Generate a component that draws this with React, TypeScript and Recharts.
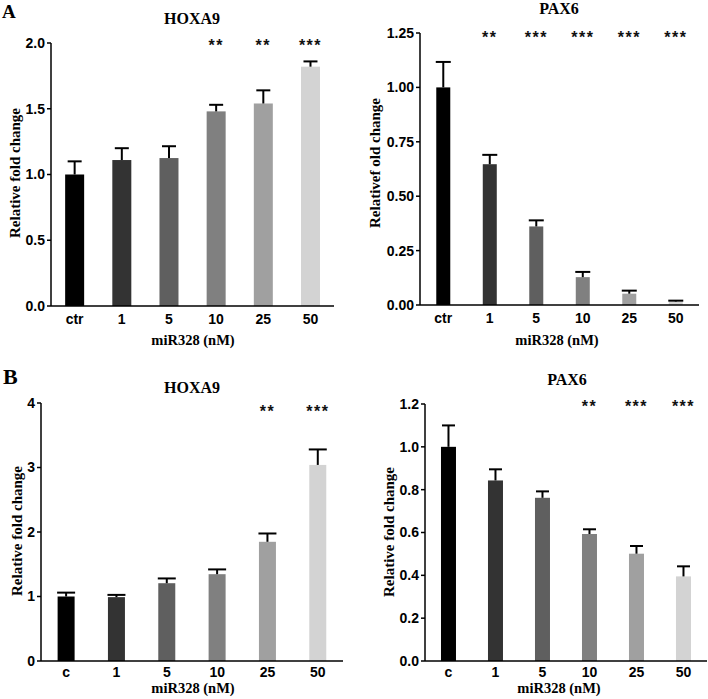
import { BarChart, Bar, XAxis, YAxis, Cell } from "recharts";

// categories
const dosesA = ["ctr", "1", "5", "10", "25", "50"];
const dosesB = ["c", "1", "5", "10", "25", "50"];
const barColors = ["#000000", "#333333", "#5f5f5f", "#808080", "#a0a0a0", "#d3d3d3"];

// panel A - HOXA9
const hoxaA = [1.0, 1.11, 1.125, 1.48, 1.54, 1.82];
const hoxaASem = [0.1, 0.09, 0.09, 0.05, 0.1, 0.04];
const hoxaASig = ["", "", "", "**", "**", "***"];
const hoxaATicks = [0, 0.5, 1.0, 1.5, 2.0];

// panel A - PAX6
const pax6A = [1.0, 0.647, 0.361, 0.128, 0.052, 0.016];
const pax6ASem = [0.117, 0.043, 0.028, 0.024, 0.014, 0.004];
const pax6ASig = ["", "**", "***", "***", "***", "***"];
const pax6ATicks = [0, 0.25, 0.5, 0.75, 1.0, 1.25];

// panel B - HOXA9
const hoxaB = [1.0, 0.99, 1.206, 1.346, 1.848, 3.04];
const hoxaBSem = [0.06, 0.035, 0.074, 0.074, 0.129, 0.24];
const hoxaBSig = ["", "", "", "", "**", "***"];
const hoxaBTicks = [0, 1, 2, 3, 4];

// panel B - PAX6
const pax6B = [1.0, 0.843, 0.762, 0.593, 0.501, 0.395];
const pax6BSem = [0.1, 0.052, 0.03, 0.022, 0.036, 0.047];
const pax6BSig = ["", "", "", "**", "***", "***"];
const pax6BTicks = [0, 0.2, 0.4, 0.6, 0.8, 1.0, 1.2];

const W = 708;
const H = 699;
const AXIS_W = 40;
const XAXIS_H = 30;
const serif = "'Liberation Serif', 'Times New Roman', serif";
const sans = "'Liberation Sans', Arial, sans-serif";

type Panel = {
  cats: string[];
  values: number[];
  sems: number[];
  sig: string[];
  ticks: number[];
  digits: number;
  box: { l: number; t: number; r: number; b: number };
  gap: string;
  cap: number;
  starDy: number;
  tickGap: number;
};

const panels: Panel[] = [
  { cats: dosesA, values: hoxaA, sems: hoxaASem, sig: hoxaASig, ticks: hoxaATicks, digits: 1,
    box: { l: 51, t: 43, r: 334, b: 306 }, gap: "30%", cap: 7, starDy: -1.3, tickGap: 2 },
  { cats: dosesA, values: pax6A, sems: pax6ASem, sig: pax6ASig, ticks: pax6ATicks, digits: 2,
    box: { l: 420, t: 33, r: 699, b: 305 }, gap: "35%", cap: 7.5, starDy: 1.3, tickGap: 2 },
  { cats: dosesB, values: hoxaB, sems: hoxaBSem, sig: hoxaBSig, ticks: hoxaBTicks, digits: 0,
    box: { l: 41, t: 403, r: 343, b: 661 }, gap: "33%", cap: 9, starDy: 5, tickGap: 0 },
  { cats: dosesB, values: pax6B, sems: pax6BSem, sig: pax6BSig, ticks: pax6BTicks, digits: 1,
    box: { l: 425, t: 404, r: 707, b: 661 }, gap: "34%", cap: 6.5, starDy: -0.7, tickGap: 0 },
];

function makeShape(p: Panel) {
  const yMax = p.ticks[p.ticks.length - 1];
  return (props: any) => {
    const { x, y, width, height, payload, index } = props;
    const k = height / payload.value; // px per unit, from the bar's own scale
    const cx = x + width / 2;
    const errY = y - payload.sem * k;
    const topY = y + height - yMax * k + p.starDy;
    return (
      <g>
        <rect x={x} y={y} width={width} height={height} fill={barColors[index]} />
        <line x1={cx} y1={y} x2={cx} y2={errY} stroke="#000" strokeWidth={2} />
        <line x1={cx - p.cap} y1={errY} x2={cx + p.cap} y2={errY} stroke="#000" strokeWidth={2} />
        {payload.sig ? (
          <text x={cx} y={topY + 9} textAnchor="middle" fontFamily={sans} fontWeight="bold"
            fontSize={16} letterSpacing={1.5} fill="#111">
            {payload.sig}
          </text>
        ) : null}
      </g>
    );
  };
}

function PanelChart({ p }: { p: Panel }) {
  const data = p.cats.map((dose, i) => ({ dose, value: p.values[i], sem: p.sems[i], sig: p.sig[i] }));
  const tickStyle = { fontFamily: sans, fontWeight: "bold", fontSize: 14, fill: "#000" };
  return (
    <div style={{ position: "absolute", left: 0, top: 0 }}>
      <BarChart
        width={W}
        height={H}
        data={data}
        barCategoryGap={p.gap}
        margin={{ top: p.box.t, left: p.box.l - AXIS_W, right: W - p.box.r, bottom: H - p.box.b - XAXIS_H }}
      >
        <XAxis dataKey="dose" height={XAXIS_H} tickLine={false} interval={0} tickMargin={p.tickGap}
          axisLine={{ stroke: "#000", strokeWidth: 1.5 }} tick={tickStyle} />
        <YAxis width={AXIS_W} domain={[0, p.ticks[p.ticks.length - 1]]} ticks={p.ticks} interval={0}
          tickFormatter={(v: number) => v.toFixed(p.digits)} tickSize={4}
          axisLine={{ stroke: "#000", strokeWidth: 1.5 }} tickLine={{ stroke: "#000", strokeWidth: 1.5 }}
          tick={tickStyle} />
        <Bar dataKey="value" isAnimationActive={false} shape={makeShape(p)}>
          {data.map((_, i) => (
            <Cell key={i} fill={barColors[i]} />
          ))}
        </Bar>
      </BarChart>
    </div>
  );
}

const titles = [
  { text: "HOXA9", x: 192, y: 23.5 },
  { text: "PAX6", x: 559, y: 13.5 },
  { text: "HOXA9", x: 192, y: 392.5 },
  { text: "PAX6", x: 567, y: 385 },
];
const xLabels = [
  { x: 193, y: 345 },
  { x: 557, y: 345 },
  { x: 193, y: 693 },
  { x: 559, y: 693 },
];
const yLabels = [
  { text: "Relative fold change", x: 15, y: 173 },
  { text: "Relativef old change", x: 375, y: 163 },
  { text: "Relative fold change", x: 16.7, y: 531 },
  { text: "Relative fold change", x: 389, y: 532 },
];

export default function App() {
  return (
    <div style={{ position: "absolute", left: 0, top: 0, width: W, height: H, background: "#fff" }}>
      {panels.map((p, i) => (
        <PanelChart key={i} p={p} />
      ))}
      <svg width={W} height={H} style={{ position: "absolute", left: 0, top: 0, pointerEvents: "none" }}>
        <text x={2} y={18} fontFamily={serif} fontWeight="bold" fontSize={19}>A</text>
        <text x={3} y={384} fontFamily={serif} fontWeight="bold" fontSize={22}>B</text>
        {titles.map((t, i) => (
          <text key={i} x={t.x} y={t.y} textAnchor="middle" fontFamily={serif} fontWeight="bold" fontSize={16}>
            {t.text}
          </text>
        ))}
        {xLabels.map((t, i) => (
          <text key={i} x={t.x} y={t.y} textAnchor="middle" fontFamily={serif} fontWeight="bold" fontSize={14.5}>
            miR328 (nM)
          </text>
        ))}
        {yLabels.map((t, i) => (
          <text key={i} x={t.x} y={t.y + 5} textAnchor="middle" fontFamily={serif} fontWeight="bold"
            fontSize={15} transform={`rotate(-90 ${t.x} ${t.y})`}>
            {t.text}
          </text>
        ))}
      </svg>
    </div>
  );
}
